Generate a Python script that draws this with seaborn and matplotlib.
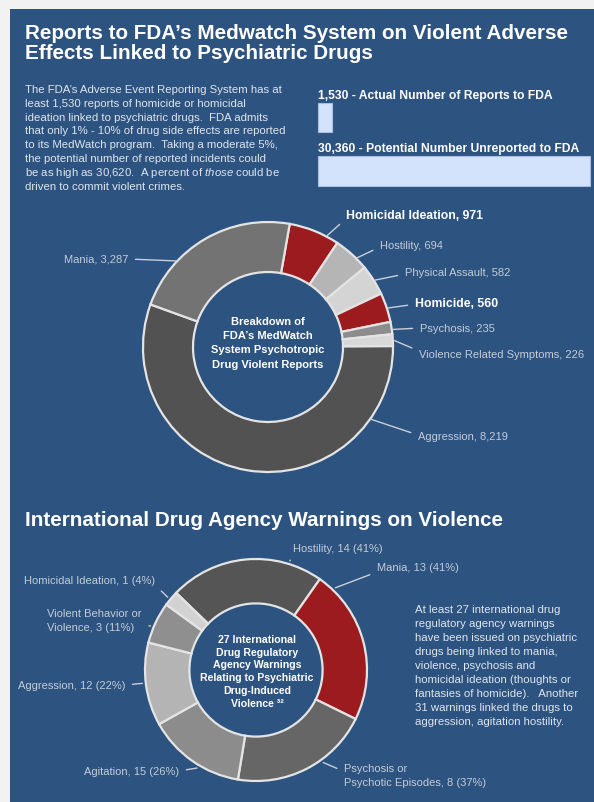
import matplotlib.pyplot as plt
import numpy as np
import seaborn as sns
from matplotlib.patches import Rectangle

W, H = 594, 803
BLUE = '#2d5380'
RED = '#9b1b1f'
TXT = '#dfe5ee'
GREY_TXT = '#c3ccd8'
LINE = '#c8d0da'

# ---- data ----
bar_names = ['Actual Number of Reports to FDA', 'Potential Number Unreported to FDA']
bar_values = [1530, 30360]

fda_names = ['Homicidal Ideation', 'Hostility', 'Physical Assault', 'Homicide',
             'Psychosis', 'Violence Related Symptoms', 'Aggression', 'Mania']
fda_values = [971, 694, 582, 560, 235, 226, 8219, 3287]
fda_colors = [RED, '#b5b5b5', '#d4d4d4', RED, '#8c8c8c', '#d8d8d8', '#525252', '#737373']
fda_bold = [True, False, False, True, False, False, False, False]

intl_names = ['Hostility', 'Mania', 'Psychosis or\nPsychotic Episodes', 'Agitation',
              'Aggression', 'Violent Behavior or\nViolence', 'Homicidal Ideation']
intl_counts = [14, 13, 8, 15, 12, 3, 1]
intl_pct = [41, 41, 37, 26, 22, 11, 4]
intl_colors = ['#555555', RED, '#666666', '#8c8c8c', '#b4b4b4', '#8f8f8f', '#d2d2d2']

title_lines = ['Reports to FDA’s Medwatch System on Violent Adverse',
               'Effects Linked to Psychiatric Drugs']
intro_lines = ['The FDA’s Adverse Event Reporting System has at',
               'least 1,530 reports of homicide or homicidal',
               'ideation linked to psychiatric drugs.  FDA admits',
               'that only 1% - 10% of drug side effects are reported',
               'to its MedWatch program.  Taking a moderate 5%,',
               'the potential number of reported incidents could',
               r'be as high as 30,620.  A percent of $\mathit{those}$ could be',
               'driven to commit violent crimes.']
center1_lines = ['Breakdown of', 'FDA’s MedWatch', 'System Psychotropic', 'Drug Violent Reports']
title2 = 'International Drug Agency Warnings on Violence'
center2_lines = ['27 International', 'Drug Regulatory', 'Agency Warnings',
                 'Relating to Psychiatric', 'Drug-Induced', 'Violence ³²']
right_lines = ['At least 27 international drug', 'regulatory agency warnings',
               'have been issued on psychiatric', 'drugs being linked to mania,',
               'violence, psychosis and', 'homicidal ideation (thoughts or',
               'fantasies of homicide).   Another', '31 warnings linked the drugs to',
               'aggression, agitation hostility.']

sns.set_theme(style='white')
plt.rcParams['font.family'] = ['Liberation Sans', 'DejaVu Sans']
plt.rcParams['mathtext.fontset'] = 'custom'
plt.rcParams['mathtext.rm'] = 'Liberation Sans'
plt.rcParams['mathtext.it'] = 'Liberation Sans:italic'

fig = plt.figure(figsize=(W / 100, H / 100), dpi=100, facecolor='#f2f2f2')
fig.add_artist(Rectangle((10 / W, 0), (W - 10) / W, (H - 10) / H, transform=fig.transFigure,
                         facecolor=BLUE, edgecolor='none', zorder=-1))


def ftext(x, y, s, **kw):
    fig.text(x / W, 1 - y / H, s, **kw)


def lines(x, y0, step, texts, **kw):
    for i, t in enumerate(texts):
        ftext(x, y0 + i * step, t, va='baseline', **kw)


# titles and text blocks
lines(25, 39, 20, title_lines, color='white', fontsize=14.9, fontweight='bold')
lines(25, 93, 13.8, intro_lines, color=TXT, fontsize=8.2)
ftext(25, 526, title2, va='baseline', color='white', fontsize=14.9, fontweight='bold')
lines(415, 613, 14, right_lines, color=TXT, fontsize=8.2)

# bars
ax_bar = fig.add_axes([318 / W, 1 - 198.75 / H, 272 / W, 107 / H])
sns.barplot(x=bar_values, y=bar_names, orient='h', color='#d4e3fc', saturation=1,
            edgecolor='#a9bedc', linewidth=0.8, width=0.56, ax=ax_bar)
ax_bar.set_xlim(0, max(bar_values))
ax_bar.set_ylim(1.5, -0.5)
ax_bar.axis('off')
for p in ax_bar.patches:
    p.set_clip_on(False)
for i, (n, v) in enumerate(zip(bar_names, bar_values)):
    ax_bar.text(0, i - 0.37, f'{v:,} - {n}', va='baseline', ha='left', color='white',
                fontsize=8.7, fontweight='bold')


def donut(cx, cy, R, values, colors, start, lim=1.6):
    ax = fig.add_axes([(cx - lim * R) / W, 1 - (cy + lim * R) / H, 2 * lim * R / W, 2 * lim * R / H])
    ax.pie(values, colors=colors, startangle=start, counterclock=False, radius=1,
           wedgeprops=dict(width=0.4, edgecolor='#e4e4e4', linewidth=1.6))
    ax.set_xlim(-lim, lim)
    ax.set_ylim(-lim, lim)
    ax.set_aspect('equal')
    ax.axis('off')
    return ax


def label(ax, text, ang, x, y, ha, rel, r=1.01, **kw):
    a = np.deg2rad(ang)
    ax.annotate(text, xy=(r * np.cos(a), r * np.sin(a)), xycoords='data',
                xytext=(x, H - y), textcoords='figure pixels', ha=ha, va='center',
                arrowprops=dict(arrowstyle='-', color=LINE, lw=1, shrinkA=3, shrinkB=0, relpos=rel),
                annotation_clip=False, **kw)


# donut 1
ax1 = donut(268, 348, 125, fda_values, fda_colors, 80)
layout1 = [(62, 346, 216, 'left', (0, 0.2)), (45, 380, 246, 'left', (0, 0.3)),
           (32, 405, 273, 'left', (0, 0.3)), (18, 415, 304, 'left', (0, 0.4)),
           (8, 420, 329, 'left', (0, 0.5)), (3, 419, 355, 'left', (0, 0.8)),
           (-35, 418, 437, 'left', (0, 0.6)), (137, 128, 260, 'right', (1, 0.5))]
for n, v, b, (ang, x, y, ha, rel) in zip(fda_names, fda_values, fda_bold, layout1):
    if b:
        label(ax1, f'{n}, {v:,}', ang, x, y, ha, rel, color='white', fontsize=8.8, fontweight='bold')
    else:
        label(ax1, f'{n}, {v:,}', ang, x, y, ha, rel, color=GREY_TXT, fontsize=8)
lines(268, 325, 14.2, center1_lines, ha='center', color='white', fontsize=8, fontweight='bold')

# donut 2
ax2 = donut(256, 671, 111, intl_pct, intl_colors, 136)
layout2 = [(72.7, 293, 549, 'left', (0, 0)), (46, 377, 568, 'left', (0, 0)),
           (-54, 344, 776, 'left', (0, 0.65)), (239, 179, 772, 'right', (1, 0.5)),
           (186.7, 125, 686, 'right', (1, 0.5)), (157.3, 47, 621, 'left', (1, 0.25)),
           (140.5, 155, 581, 'right', (1, 0))]
for n, c, pc, (ang, x, y, ha, rel) in zip(intl_names, intl_counts, intl_pct, layout2):
    label(ax2, f'{n}, {c} ({pc}%)', ang, x, y, ha, rel, r=1.03, color=GREY_TXT, fontsize=8,
          linespacing=1.45, multialignment='left')
lines(257, 642.7, 12.8, center2_lines, ha='center', color='white', fontsize=7.6, fontweight='bold')

fig.savefig('out.png', dpi=100, facecolor=fig.get_facecolor())
